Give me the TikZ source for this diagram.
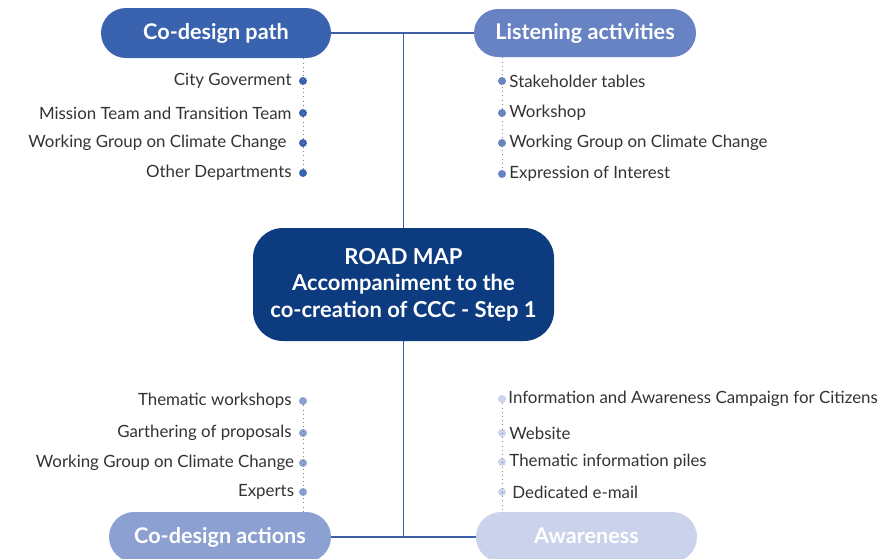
\documentclass[tikz,border=0pt]{standalone}
\usepackage{fontspec}
\setmainfont{Lato}
\usetikzlibrary{positioning,shapes.misc}
\definecolor{pathblue}{HTML}{3A63AF}
\definecolor{listenblue}{HTML}{6883C3}
\definecolor{roadblue}{HTML}{0D3B80}
\definecolor{actionblue}{HTML}{8CA1D2}
\definecolor{awareblue}{HTML}{CAD3EB}
\definecolor{linkblue}{HTML}{3D5EA8}
\definecolor{itemgray}{HTML}{333333}
\begin{document}
\begin{tikzpicture}[
    pill/.style={rounded rectangle, text=white, font={\fontsize{12.3}{14}\selectfont\bfseries}, minimum height=1cm, inner sep=0pt,
                 text height=0.72em, text depth=0pt},
    link/.style={draw=linkblue, line width=0.8pt},
    trail/.style={draw=gray, dotted, line width=0.4pt},
    item/.style={font={\fontsize{9.6}{11}\selectfont}, text=itemgray, inner sep=1pt},
    dot/.style={circle, inner sep=0pt, minimum size=0.16cm}]
    \clip (0,0) rectangle (17.8,-11.16);
    \useasboundingbox (0,0) rectangle (17.8,-11.16);

    % main boxes
    \node[pill, fill=pathblue, minimum width=4.6cm] (cdp) at (4.32,-0.66) {Co-design path};
    \node[pill, fill=listenblue, minimum width=4.44cm, minimum height=0.96cm] (lst) at (11.7,-0.66) {Listening activities};
    \node[rounded corners=0.6cm, fill=roadblue, text=white, minimum width=6.02cm, minimum height=2.26cm, align=center,
          font={\fontsize{12.5}{15}\selectfont\bfseries}] (road) at (8.07,-5.69) {ROAD MAP\\Accompaniment to the\\co-creation of CCC - Step 1};
    \node[pill, fill=actionblue, minimum width=4.44cm] (cda) at (4.4,-10.74) {Co-design actions};
    \node[pill, fill=awareblue, minimum width=4.42cm] (awr) at (11.73,-10.74) {Awareness};

    % links
    \draw[link] (cdp.east) -- (lst.west);
    \draw[link] (road.north) -- (road.north |- cdp.east);
    \draw[link] (cda.east) -- (awr.west);
    \draw[link] (road.south) -- (road.south |- cda.east);

    % co-design path
    \node[dot, fill=pathblue] (p1) at (6.06,-1.62) {};
    \node[dot, fill=pathblue] (p2) at (6.06,-2.26) {};
    \node[dot, fill=pathblue] (p3) at (6.06,-2.86) {};
    \node[dot, fill=pathblue] (p4) at (6.06,-3.46) {};
    \draw[trail] (p1 |- cdp.south) -- (p4);
    \node[item, left=0.1cm of p1] {City Goverment};
    \node[item, left=0.1cm of p2] {Mission Team and Transition Team};
    \node[item, left=0.2cm of p3] {Working Group on Climate Change};
    \node[item, left=0.1cm of p4] {Other Departments};

    % listening activities
    \node[dot, fill=listenblue] (l1) at (10.04,-1.62) {};
    \node[dot, fill=listenblue] (l2) at (10.04,-2.26) {};
    \node[dot, fill=listenblue] (l3) at (10.04,-2.86) {};
    \node[dot, fill=listenblue] (l4) at (10.04,-3.48) {};
    \draw[trail] (l1 |- lst.south) -- (l4);
    \node[item, right=0.02cm of l1] {Stakeholder tables};
    \node[item, right=0.02cm of l2] {Workshop};
    \node[item, right=0.02cm of l3] {Working Group on Climate Change};
    \node[item, right=0.02cm of l4] {Expression of Interest};

    % co-design actions
    \node[dot, fill=actionblue] (a1) at (6.06,-8.02) {};
    \node[dot, fill=actionblue] (a2) at (6.06,-8.66) {};
    \node[dot, fill=actionblue] (a3) at (6.06,-9.26) {};
    \node[dot, fill=actionblue] (a4) at (6.06,-9.84) {};
    \draw[trail] (a1) -- (a1 |- cda.north);
    \node[item, left=0.1cm of a1] {Thematic workshops};
    \node[item, left=0.1cm of a2] {Garthering of proposals};
    \node[item, left=0.05cm of a3] {Working Group on Climate Change};
    \node[item, left=0.05cm of a4] {Experts};

    % awareness
    \node[dot, fill=awareblue] (w1) at (10.04,-7.98) {};
    \node[dot, fill=awareblue] (w2) at (10.04,-8.66) {};
    \node[dot, fill=awareblue] (w3) at (10.04,-9.24) {};
    \node[dot, fill=awareblue] (w4) at (10.04,-9.84) {};
    \draw[trail] (w1) -- (w1 |- awr.north);
    \node[item, right=0.0cm of w1] {Information and Awareness Campaign for Citizens};
    \node[item, right=0.02cm of w2] {Website};
    \node[item, right=0.02cm of w3] {Thematic information piles};
    \node[item, right=0.08cm of w4] {Dedicated e-mail};
\end{tikzpicture}
\end{document}
